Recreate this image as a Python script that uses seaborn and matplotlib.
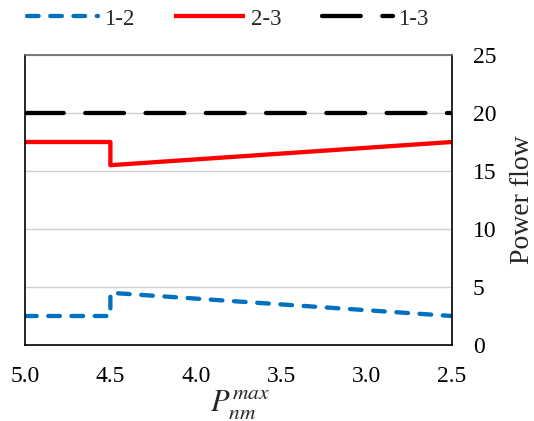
import matplotlib
matplotlib.use("Agg")
import matplotlib.pyplot as plt
import seaborn as sns
import pandas as pd

# Data
x_vals = [5.0, 4.5, 4.5, 2.5]
flow_12 = [2.5, 2.5, 4.5, 2.5]
flow_23 = [17.5, 17.5, 15.5, 17.5]
flow_13 = [20.0, 20.0, 20.0, 20.0]
series_names = ["1-2", "2-3", "1-3"]
y_ticks = [0, 5, 10, 15, 20, 25]
x_ticks = [5.0, 4.5, 4.0, 3.5, 3.0, 2.5]

rows = []
for name, vals in zip(series_names, [flow_12, flow_23, flow_13]):
    for i, (xv, yv) in enumerate(zip(x_vals, vals)):
        rows.append({"x": xv, "y": yv, "line": name, "order": i})
df = pd.DataFrame(rows)

sns.set_theme(style="white")
plt.rcParams["font.family"] = ["Liberation Serif", "DejaVu Serif"]
plt.rcParams["mathtext.fontset"] = "stix"
plt.rcParams["lines.dash_capstyle"] = "round"
plt.rcParams["lines.solid_capstyle"] = "butt"

fig = plt.figure(figsize=(5.34, 4.21), dpi=100)
ax = fig.add_axes([0.0468, 0.1805, 0.7996, 0.6889])

palette = {"1-2": "#0070C0", "2-3": "#FF0000", "1-3": "#000000"}
dashes = {"1-2": (2.7, 2.7), "2-3": "", "1-3": (9.0, 5.0)}

sns.lineplot(data=df, x="x", y="y", hue="line", style="line",
             palette=palette, dashes=dashes, estimator=None, sort=False,
             units="line", linewidth=3.1, ax=ax, legend=True)

ax.set_xlim(5.0, 2.5)
ax.set_ylim(0, 25)
ax.set_xticks(x_ticks)
ax.set_xticklabels([f"{v:.1f}" for v in x_ticks])
ax.set_yticks(y_ticks)
ax.yaxis.tick_right()
ax.yaxis.set_label_position("right")
ax.tick_params(axis="both", length=0, labelsize=17, colors="black")
ax.tick_params(axis="x", pad=15)
ax.tick_params(axis="y", pad=15)
ax.grid(axis="y", color="#d0d0d0", linewidth=1)
ax.grid(axis="x", visible=False)
for side in ["left", "right", "bottom"]:
    ax.spines[side].set_visible(True)
    ax.spines[side].set_color("black")
    ax.spines[side].set_linewidth(1.2)
ax.spines["top"].set_color("#666666")
ax.spines["top"].set_linewidth(1.2)

ax.set_xlabel("$P_{nm}^{max}$", fontsize=22, labelpad=0)
ax.set_ylabel("Power flow", fontsize=20)
ax.yaxis.set_label_coords((523 - 25) / 427, 0.5)
ax.yaxis.label.set_va("center")
ax.yaxis.label.set_ha("center")
ax.xaxis.set_label_coords((240 - 25) / 427, -0.15)
ax.xaxis.label.set_va("top")

handles, labels = ax.get_legend_handles_labels()
ax.legend(handles, labels, loc="center", bbox_to_anchor=(228 / 534, 1 - 19 / 421),
          bbox_transform=fig.transFigure,
          ncol=3, frameon=False, fontsize=16.5, handlelength=3.1,
          handletextpad=0.25, columnspacing=1.75, borderaxespad=0.0,
          borderpad=0.0)

fig.savefig("out.png", dpi=100)
